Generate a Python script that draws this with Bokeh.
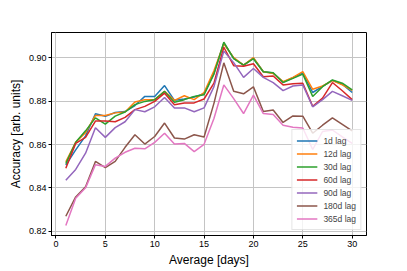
from bokeh.plotting import figure
from bokeh.models import Range1d, FixedTicker, NumeralTickFormatter, Legend, LegendItem
from bokeh.embed import file_html
from bokeh.resources import INLINE

days = list(range(1, 31))

lag_1d = [0.8505, 0.8575, 0.8640, 0.8742, 0.8730, 0.8748, 0.8752, 0.8780, 0.8822, 0.8822,
          0.8872, 0.8804, 0.8810, 0.8819, 0.8834, 0.8928, 0.9068, 0.8998, 0.8966, 0.8998,
          0.8936, 0.8930, 0.8888, 0.8908, 0.8930, 0.8840, 0.8868, 0.8896, 0.8878, 0.8840]
lag_12d = [0.8520, 0.8610, 0.8655, 0.8734, 0.8734, 0.8746, 0.8750, 0.8796, 0.8807, 0.8807,
           0.8845, 0.8804, 0.8825, 0.8807, 0.8840, 0.8940, 0.9065, 0.9001, 0.8966, 0.9001,
           0.8936, 0.8928, 0.8890, 0.8910, 0.8936, 0.8855, 0.8870, 0.8895, 0.8875, 0.8850]
lag_30d = [0.8512, 0.8610, 0.8663, 0.8723, 0.8694, 0.8731, 0.8750, 0.8784, 0.8799, 0.8807,
           0.8845, 0.8795, 0.8807, 0.8822, 0.8830, 0.8925, 0.9072, 0.8996, 0.8966, 0.8996,
           0.8936, 0.8931, 0.8886, 0.8905, 0.8925, 0.8822, 0.8867, 0.8898, 0.8883, 0.8852]
lag_60d = [0.8490, 0.8605, 0.8633, 0.8708, 0.8708, 0.8705, 0.8725, 0.8761, 0.8776, 0.8799,
           0.8837, 0.8784, 0.8792, 0.8792, 0.8810, 0.8883, 0.9049, 0.8964, 0.8961, 0.8973,
           0.8913, 0.8916, 0.8875, 0.8880, 0.8883, 0.8776, 0.8814, 0.8886, 0.8848, 0.8807]
lag_90d = [0.8435, 0.8485, 0.8560, 0.8677, 0.8633, 0.8678, 0.8705, 0.8761, 0.8751, 0.8774,
           0.8817, 0.8769, 0.8769, 0.8751, 0.8769, 0.8867, 0.9031, 0.8978, 0.8910, 0.8951,
           0.8910, 0.8886, 0.8849, 0.8870, 0.8875, 0.8774, 0.8807, 0.8845, 0.8825, 0.8804]
lag_180d = [0.8269, 0.8358, 0.8405, 0.8522, 0.8493, 0.8522, 0.8587, 0.8645, 0.8602, 0.8637,
            0.8699, 0.8630, 0.8625, 0.8645, 0.8635, 0.8790, 0.8977, 0.8846, 0.8834, 0.8866,
            0.8752, 0.8759, 0.8702, 0.8732, 0.8731, 0.8652, 0.8689, 0.8723, 0.8693, 0.8663]
lag_365d = [0.8226, 0.8352, 0.8400, 0.8507, 0.8499, 0.8537, 0.8564, 0.8583, 0.8580, 0.8610,
            0.8652, 0.8602, 0.8605, 0.8567, 0.8601, 0.8720, 0.8875, 0.8812, 0.8743, 0.8828,
            0.8743, 0.8739, 0.8689, 0.8680, 0.8676, 0.8577, 0.8660, 0.8667, 0.8635, 0.8605]

series_labels = ["1d lag", "12d lag", "30d lag", "60d lag", "90d lag", "180d lag", "365d lag"]
series_values = [lag_1d, lag_12d, lag_30d, lag_60d, lag_90d, lag_180d, lag_365d]
colors = ["#1f77b4", "#ff7f0e", "#2ca02c", "#d62728", "#9467bd", "#8c564b", "#e377c2"]

x_ticks = [0, 5, 10, 15, 20, 25, 30]
y_ticks = [0.82, 0.84, 0.86, 0.88, 0.90]

FONT = "Liberation Sans"

p = figure(width=405, height=269, output_backend="svg", toolbar_location=None,
           x_range=Range1d(-0.45, 31.45), y_range=Range1d(0.818, 0.9117),
           min_border_left=51, min_border_right=39, min_border_top=32, min_border_bottom=32)
p.background_fill_color = "white"
p.border_fill_color = "white"
p.outline_line_color = "black"
p.outline_line_width = 1

items = []
for lab, vals, col in zip(series_labels, series_values, colors):
    r = p.line(days, vals, line_color=col, line_width=1.5)
    items.append(LegendItem(label=lab, renderers=[r]))

legend = Legend(items=items, location="bottom_right")
legend.label_text_font = FONT
legend.label_text_font_size = "8.5px"
legend.label_height = 13
legend.glyph_height = 13
legend.glyph_width = 21
legend.spacing = 0
legend.padding = 4
legend.margin = 5
legend.label_standoff = 6
legend.border_line_color = "#cccccc"
legend.border_line_width = 1
legend.background_fill_alpha = 0.8
p.add_layout(legend)

p.xaxis.ticker = FixedTicker(ticks=x_ticks)
p.yaxis.ticker = FixedTicker(ticks=y_ticks)
p.yaxis.formatter = NumeralTickFormatter(format="0.00")
p.xaxis.axis_label = "Average [days]"
p.yaxis.axis_label = "Accuracy [arb. units]"
for ax in (p.xaxis, p.yaxis):
    ax.axis_label_text_font = FONT
    ax.axis_label_text_font_size = "12px"
    ax.axis_label_text_font_style = "normal"
    ax.axis_label_text_color = "black"
    ax.major_label_text_font = FONT
    ax.major_label_text_font_size = "9px"
    ax.major_label_text_color = "black"
    ax.major_tick_in = 0
    ax.major_tick_out = 3
    ax.minor_tick_line_color = None
    ax.major_tick_line_color = "black"
    ax.axis_line_color = "black"
    ax.major_label_standoff = 2
    ax.axis_label_standoff = 3

p.grid.grid_line_color = "#c4c4c4"
p.grid.grid_line_width = 1

open("out.html", "w").write(file_html(p, INLINE))
